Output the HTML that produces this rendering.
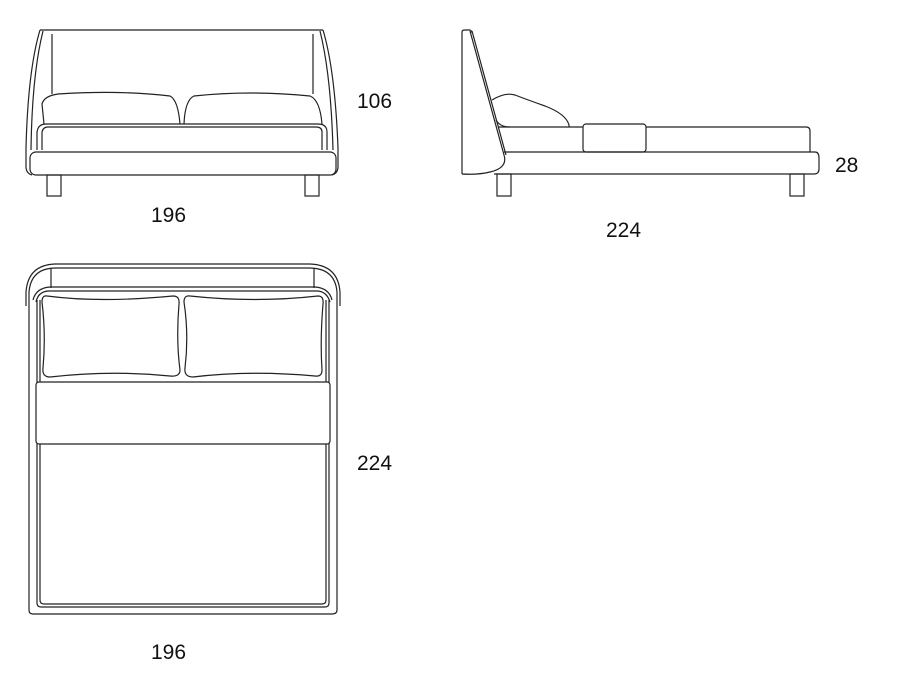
<!DOCTYPE html>
<html><head><meta charset="utf-8"><style>
html,body{margin:0;padding:0;background:#fff;width:900px;height:675px;overflow:hidden}
svg{display:block}
text{font-family:"Liberation Sans",Arial,sans-serif;font-size:21px;fill:#111}
</style></head><body>
<svg width="900" height="675" viewBox="0 0 900 675" fill="none" stroke="#222" stroke-width="1.2">
<!-- FRONT VIEW -->
<path d="M40 30 L323 30"/>
<path d="M40 30 Q28 70 26 148 L26 168 Q27 174 32 175"/>
<path d="M43 31 Q32 75 31 150"/>
<path d="M323 30 Q335 70 338 148 L338 168 Q337 174 332 175"/>
<path d="M320 31 Q331 75 333 150"/>
<path d="M52 34 L52 94 M313 34 L313 94"/>
<path d="M44 124 L42 104 Q44 96 58 94 Q120 90 170 96 Q178 100 180 124"/>
<path d="M184 124 Q185 100 194 96 Q250 90 310 96 Q320 100 322 124"/>
<path d="M37 150 L37 132 Q38 124 46 124 L318 124 Q327 124 327 132 L327 150"/>
<path d="M42 150 L42 132 Q43 127 48 127 L316 127 Q322 127 322 132 L322 150"/>
<rect x="30" y="152" width="306" height="23" rx="6"/>
<rect x="47" y="175" width="14" height="21"/>
<rect x="305" y="175" width="14" height="21"/>
<!-- SIDE VIEW -->
<path d="M462 174 L462 32 Q462 30 465 30 L470 30 Q472 31 472 33"/>
<path d="M470 31 L504 155 Q508 168 490 172 Q478 175 462 174"/>
<path d="M472 31 L506 155"/>
<path d="M492 100 Q505 92 515 95 Q528 100 545 106 Q566 114 569 125 L569 127"/>
<path d="M496 120 Q500 127 510 127"/>
<path d="M498 127 L583 127"/>
<rect x="583" y="124" width="63" height="28" rx="3"/>
<path d="M646 127 L806 127 Q810 127 810 131 L810 152"/>
<path d="M504 152 L815 152 Q819 152 819 158 L819 169 Q819 174 814 174 L494 174"/>
<rect x="497" y="174" width="14" height="22"/>
<rect x="790" y="174" width="14" height="22"/>
<!-- TOP VIEW -->
<path d="M26 306 L26 292 Q28 265 55 264 L310 264 Q338 265 340 292 L340 306"/>
<path d="M29 306 L29 292 Q31 268 56 268 L309 268 Q335 268 337 292 L337 306"/>
<path d="M51 268 L51 288 M314 268 L314 288"/>
<path d="M33 300 Q36 288 50 287 L315 287 Q329 288 332 300"/>
<path d="M36 302 Q38 292 48 291 L318 291 Q327 292 330 302"/>
<path d="M29 306 L29 610 Q29 614 33 614 L332 614 Q337 614 337 610 L337 306"/>
<path d="M37 300 L37 603 Q37 607 41 607 L325 607 Q329 607 329 603 L329 300"/>
<path d="M40 300 L40 600 Q40 604 44 604 L322 604 Q326 604 326 600 L326 300"/>
<path d="M47 296 Q100 303 173 296 Q180 296 179 304 Q176 340 180 370 Q180 377 170 376 Q110 370 50 377 Q42 377 43 368 Q46 335 42 302 Q42 295 47 296 Z"/>
<path d="M190 296 Q255 303 318 296 Q324 296 323 304 Q320 340 322 370 Q322 377 315 376 Q250 370 193 377 Q184 377 185 368 Q189 335 184 302 Q184 295 190 296 Z"/>
<rect x="36" y="382" width="294" height="62" rx="3" fill="#fff"/>
<!-- labels -->
<g stroke="none">
<text x="357" y="108">106</text>
<text x="151" y="222">196</text>
<text x="606" y="237">224</text>
<text x="835" y="172">28</text>
<text x="357" y="470">224</text>
<text x="151" y="659">196</text>
</g>
</svg>
</body></html>
